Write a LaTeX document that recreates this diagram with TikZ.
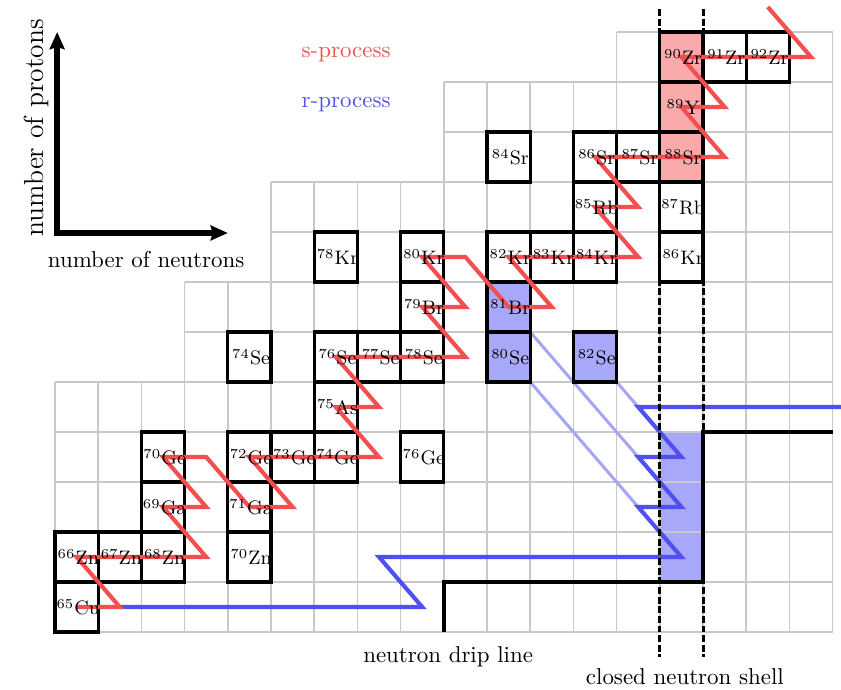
\documentclass[tikz,border=0pt]{standalone}
\usetikzlibrary{arrows.meta}
\definecolor{sred}{RGB}{242,80,80}
\definecolor{rblue}{RGB}{80,80,242}
\definecolor{lblue}{RGB}{165,165,245}
\definecolor{bfill}{RGB}{168,168,250}
\definecolor{rfill}{RGB}{250,170,170}
\definecolor{gridgray}{RGB}{200,200,200}
\newcommand{\isol}[2]{\hspace*{1.5pt}\textsuperscript{#1}#2}
\begin{document}
\begin{tikzpicture}[x=18.835pt,y=21.8pt,
  gridline/.style={draw=gridgray,line width=0.65pt},
  iso/.style={draw=black,line width=1.45pt,minimum width=18.835pt,minimum height=21.8pt,inner sep=0pt},
  bluebox/.style={iso,fill=bfill},
  redbox/.style={iso,fill=rfill},
  isotext/.style={inner sep=0pt,font=\fontsize{8.5}{10}\selectfont},
  spath/.style={draw=sred,line width=1.8pt},
  rpath/.style={draw=rblue,line width=1.8pt},
  ldecay/.style={draw=lblue,line width=1.3pt},
  drip/.style={draw=black,line width=1.75pt},
  shell/.style={draw=black,line width=1.3pt,dash pattern=on 3pt off 1.2pt},
  axis/.style={draw=black,line width=2.5pt,{Stealth[length=7.5pt,width=6.5pt,inset=1pt]}-{Stealth[length=7.5pt,width=6.5pt,inset=1pt]}},
  lbl/.style={inner sep=0pt}]
\useasboundingbox (-1.2731,-1.14) rectangle (18.1944,12.64);

% blue waiting region (under the grid)
\fill[bfill] (14,1) rectangle (15,4);

% grid: bands of rows (first row, last row+1, first column)
\foreach \ya/\yb/\xa in {0/5/0, 5/7/3, 7/9/5, 9/11/9, 11/12/13}{
  \foreach \yy in {\ya,...,\yb} \draw[gridline] (\xa,\yy) -- (18,\yy);
  \foreach \xx in {\xa,...,18} \draw[gridline] (\xx,\ya) -- (\xx,\yb);
}

% beta decays to stable r-only nuclei
\draw[ldecay] (13.5,2.5) -- (10.5,5.5);
\draw[ldecay] (13.5,3.5) -- (10.5,6.5);
\draw[ldecay] (13.5,4.5) -- (12.5,5.5);

% stable isotopes: name/column/row/mass/element/style
\def\isolist{Cu65/0/0/65/Cu/iso, Zn66/0/1/66/Zn/iso, Zn67/1/1/67/Zn/iso, Zn68/2/1/68/Zn/iso,
  Zn70/4/1/70/Zn/iso, Ga69/2/2/69/Ga/iso, Ga71/4/2/71/Ga/iso, Ge70/2/3/70/Ge/iso,
  Ge72/4/3/72/Ge/iso, Ge73/5/3/73/Ge/iso, Ge74/6/3/74/Ge/iso, Ge76/8/3/76/Ge/iso,
  As75/6/4/75/As/iso, Se74/4/5/74/Se/iso, Se76/6/5/76/Se/iso, Se77/7/5/77/Se/iso,
  Se78/8/5/78/Se/iso, Se80/10/5/80/Se/bluebox, Se82/12/5/82/Se/bluebox,
  Br79/8/6/79/Br/iso, Br81/10/6/81/Br/bluebox, Kr78/6/7/78/Kr/iso, Kr80/8/7/80/Kr/iso,
  Kr82/10/7/82/Kr/iso, Kr83/11/7/83/Kr/iso, Kr84/12/7/84/Kr/iso, Kr86/14/7/86/Kr/iso,
  Rb85/12/8/85/Rb/iso, Rb87/14/8/87/Rb/iso, Sr84/10/9/84/Sr/iso, Sr86/12/9/86/Sr/iso,
  Sr87/13/9/87/Sr/iso, Sr88/14/9/88/Sr/redbox, Y89/14/10/89/Y/redbox,
  Zr90/14/11/90/Zr/redbox, Zr91/15/11/91/Zr/iso, Zr92/16/11/92/Zr/iso}
\foreach \nm/\cc/\rr/\ms/\el/\st in \isolist
  \node[\st] (\nm) at (\cc+0.5,\rr+0.5) {};

% neutron drip line
\draw[drip] (9,0) -- (9,1) -- (15,1) -- (15,4) -- (18,4);

% r-process path
\draw[rpath] (1.5,0.5) -- (8.5,0.5) -- (7.5,1.5) -- (14.5,1.5) -- (13.5,2.5) -- (14.5,2.5)
  -- (13.5,3.5) -- (14.5,3.5) -- (13.5,4.5) -- (18.1944,4.5);

% closed neutron shell
\draw[shell] (14,12.46) -- (14,-0.5);
\draw[shell] (15,12.46) -- (15,-0.5);

% s-process path
\draw[spath] (0.5,0.5) -- (1.5,0.5) -- (0.5,1.5) -- (3.5,1.5) -- (2.5,2.5) -- (3.5,2.5)
  -- (2.5,3.5) -- (3.5,3.5) -- (4.5,2.5) -- (5.5,2.5) -- (4.5,3.5) -- (7.5,3.5)
  -- (6.5,4.5) -- (7.5,4.5) -- (6.5,5.5) -- (9.5,5.5) -- (8.5,6.5) -- (9.5,6.5)
  -- (8.5,7.5) -- (9.5,7.5) -- (10.5,6.5) -- (11.5,6.5) -- (10.5,7.5) -- (13.5,7.5)
  -- (12.5,8.5) -- (13.5,8.5) -- (12.5,9.5) -- (15.5,9.5) -- (14.5,10.5) -- (15.5,10.5)
  -- (14.5,11.5) -- (17.5,11.5) -- (16.5,12.5);

% isotope labels on top of the paths
\foreach \nm/\cc/\rr/\ms/\el/\st in \isolist
  \node[isotext] (\nm t) at (\nm.center) {\isol{\ms}{\el}};

% axes
\coordinate (ytip) at (0.05,12);
\coordinate (corner) at (0.05,7.98);
\coordinate (xtip) at (4,7.98);
\draw[axis] (ytip) -- (corner) -- (xtip);
\node[lbl,rotate=90,font=\fontsize{12}{14}\selectfont] (protons) at (-0.44,10.08) {number of protons};
\node[lbl] (neutrons) at (2.11,7.44) {number of neutrons};

% legend
\node[lbl,text=sred] (sproc) at (6.74,11.54) {s-process};
\node[lbl,text=rblue] (rproc) at (6.74,10.54) {r-process};

% bottom labels
\node[lbl] (driplbl) at (9.1,-0.5) {neutron drip line};
\node[lbl] (shelllbl) at (14.58,-0.9) {closed neutron shell};
\end{tikzpicture}
\end{document}
